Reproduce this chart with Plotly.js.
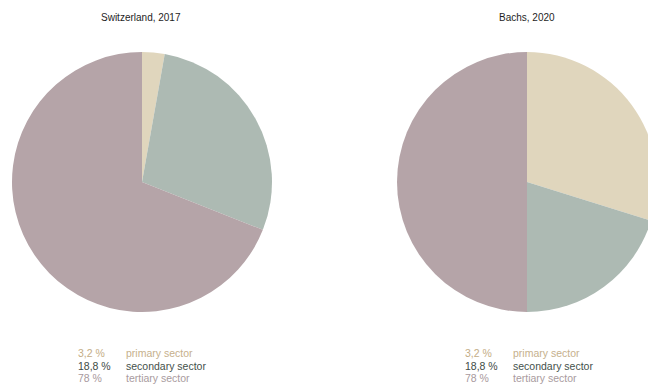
<!DOCTYPE html>
<html>
<head>
<meta charset="utf-8">
<script src="https://cdn.plot.ly/plotly-3.0.1.min.js"></script>
<style>
html, body { margin: 0; padding: 0; width: 648px; height: 386px; overflow: hidden; background: #fff; }
#chart { width: 700px; height: 386px; }
</style>
</head>
<body>
<div id="chart"></div>
<script>
// Data
const sectors = ["primary sector", "secondary sector", "tertiary sector"];
const chartTitles = ["Switzerland, 2017", "Bachs, 2020"];
const switzerlandShares = [2.8, 28.2, 69.0];   // slice sizes as drawn
const bachsShares = [29.8, 20.2, 50.0];        // slice sizes as drawn
const legendPercents = ["3,2 %", "18,8 %", "78 %"];

// Styling
const sliceColors = ["#e0d6bd", "#adbab3", "#b5a4a8"];
const pctColors = ["#c4ad86", "#3e4a45", "#a8999d"];
const labelColors = ["#c6b08c", "#44514b", "#a99b9e"];

const W = 700, H = 386;
const px = v => v / W;
const py = v => 1 - v / H;
const FONT = "Liberation Sans, Arial, sans-serif";

function pieTrace(values, cx, cy, r) {
  return {
    type: "pie",
    labels: sectors,
    values: values,
    sort: false,
    direction: "clockwise",
    rotation: 0,
    textinfo: "none",
    hoverinfo: "label+percent",
    marker: { colors: sliceColors, line: { width: 0 } },
    domain: { x: [px(cx - r), px(cx + r)], y: [py(cy + r), py(cy - r)] },
    showlegend: false
  };
}

const data = [
  pieTrace(switzerlandShares, 142, 182, 130),
  pieTrace(bachsShares, 527, 182, 130)
];

const annotations = [];
const titleX = [141, 527];
chartTitles.forEach((t, i) => {
  annotations.push({
    text: t, xref: "paper", yref: "paper", x: px(titleX[i]), y: py(17),
    xanchor: "center", yanchor: "middle", showarrow: false,
    font: { family: FONT, size: 10, color: "#1e1e1e" }
  });
});

const legendCols = [[76, 124], [463, 511]];
const rowY = [353, 365.5, 378];
legendCols.forEach(cols => {
  sectors.forEach((s, j) => {
    annotations.push({
      text: legendPercents[j], xref: "paper", yref: "paper", x: px(cols[0]), y: py(rowY[j]),
      xanchor: "left", yanchor: "middle", showarrow: false,
      font: { family: FONT, size: 10.5, color: pctColors[j] }
    });
    annotations.push({
      text: s, xref: "paper", yref: "paper", x: px(cols[1]), y: py(rowY[j]),
      xanchor: "left", yanchor: "middle", showarrow: false,
      font: { family: FONT, size: 10.5, color: labelColors[j] }
    });
  });
});

const layout = {
  width: W, height: H,
  margin: { l: 0, r: 0, t: 0, b: 0 },
  paper_bgcolor: "#fff",
  plot_bgcolor: "#fff",
  showlegend: false,
  annotations: annotations
};

Plotly.newPlot("chart", data, layout, { staticPlot: true, displayModeBar: false });
</script>
</body>
</html>
